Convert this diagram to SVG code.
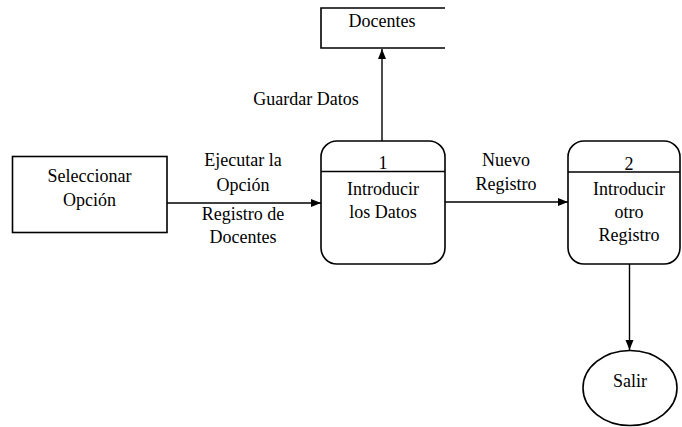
<svg xmlns="http://www.w3.org/2000/svg" width="682" height="427" viewBox="0 0 682 427">
<style>
.s{fill:none;stroke:#000;stroke-width:1.6}
.n{fill:#fff;stroke:#000;stroke-width:1.6}
.c{fill:none;stroke:#000;stroke-width:1.4}
text{font-family:'Times New Roman','Liberation Serif','DejaVu Serif',serif;font-size:18px;fill:#000;text-anchor:middle}
</style>
<defs>
<marker id="a" markerWidth="10" markerHeight="10" refX="10" refY="5" orient="auto" markerUnits="userSpaceOnUse">
<path d="M0,1 L10,5 L0,9 Z" fill="#000"/>
</marker>
</defs>
<rect width="682" height="427" fill="#fff"/>
<g id="connectors">
<line class="c" x1="382" y1="141" x2="382" y2="49" marker-end="url(#a)"/>
<line class="c" x1="167" y1="203" x2="321" y2="203" marker-end="url(#a)"/>
<line class="c" x1="445" y1="202" x2="568" y2="202" marker-end="url(#a)"/>
<line class="c" x1="629.5" y1="264" x2="629.5" y2="350" marker-end="url(#a)"/>
<text x="306" y="105">Guardar Datos</text>
<text x="243" y="166">Ejecutar la</text>
<text x="243" y="191">Opción</text>
<text x="243" y="220">Registro de</text>
<text x="243" y="243">Docentes</text>
<text x="506" y="166">Nuevo</text>
<text x="506" y="190">Registro</text>
</g>
<g id="docentes">
<path class="s" d="M445,8 H321 V48 H445"/>
<text x="382" y="27">Docentes</text>
</g>
<g id="seleccionar">
<rect class="n" x="12.5" y="156.5" width="154.5" height="76"/>
<text x="89.5" y="182">Seleccionar</text>
<text x="89.5" y="206">Opción</text>
</g>
<g id="p1">
<rect class="n" x="321" y="141" width="124" height="123" rx="16" ry="16"/>
<line class="s" x1="321" y1="171.5" x2="445" y2="171.5"/>
<text x="383" y="169">1</text>
<text x="383" y="195">Introducir</text>
<text x="383" y="218">los Datos</text>
</g>
<g id="p2">
<rect class="n" x="568" y="141" width="112" height="123" rx="16" ry="16"/>
<line class="s" x1="568" y1="172" x2="680" y2="172"/>
<text x="629" y="170">2</text>
<text x="629" y="195">Introducir</text>
<text x="629" y="218">otro</text>
<text x="629" y="241">Registro</text>
</g>
<g id="salir">
<ellipse class="n" cx="630" cy="388" rx="47" ry="37.5"/>
<text x="630" y="387">Salir</text>
</g>
</svg>
